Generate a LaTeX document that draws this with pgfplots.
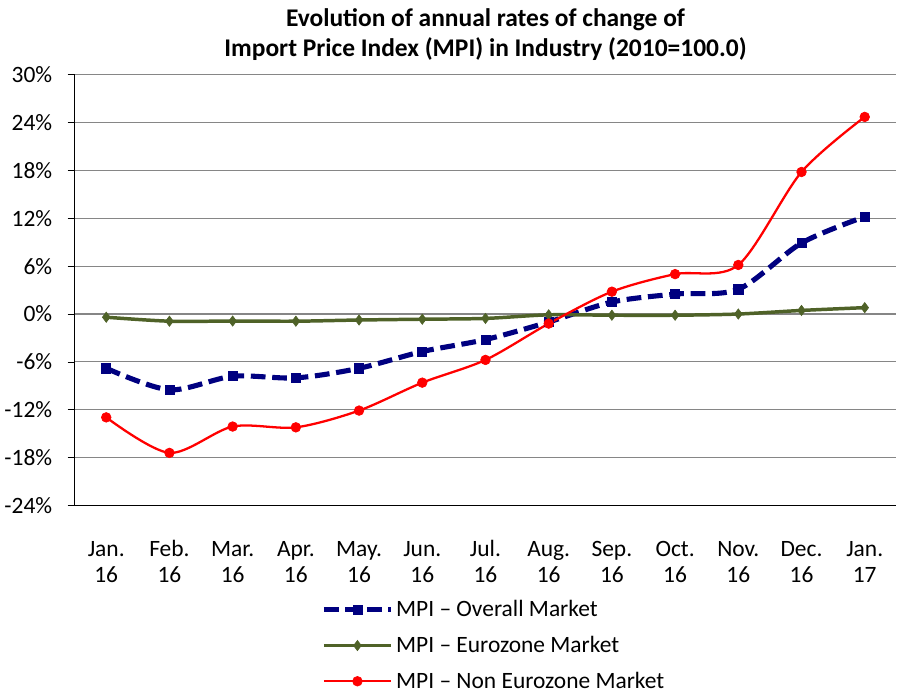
\documentclass[border={0pt 0pt 0pt 3pt}]{standalone}
\usepackage{pgfplots}
\pgfplotsset{compat=1.18}
\usepackage{fontspec}
\setmainfont{Carlito}
\definecolor{mpinavy}{RGB}{0,0,128}
\definecolor{mpiolive}{RGB}{79,98,40}
\definecolor{mpired}{RGB}{255,0,0}
\definecolor{gridgray}{RGB}{134,134,134}
\begin{document}
\begin{tikzpicture}
\begin{axis}[
  scale only axis,
  width=613.5pt, height=321.75pt,
  xmin=-0.5, xmax=12.5,
  ymin=-24, ymax=30,
  ytick={-24,-18,...,30},
  yticklabel={\pgfmathprintnumber{\tick}\%},
  /pgf/number format/assume math mode=true,
  xtick={0,...,12},
  xticklabels={{\strut Jan.\\16},{\strut Feb.\\16},{\strut Mar.\\16},{\strut Apr.\\16},{\strut May.\\16},{\strut Jun.\\16},{\strut Jul.\\16},{\strut Aug.\\16},{\strut Sep.\\16},{\strut Oct.\\16},{\strut Nov.\\16},{\strut Dec.\\16},{\strut Jan.\\17}},
  xticklabel style={align=center, yshift=-15pt, font=\fontsize{17.5}{20}\selectfont},
  yticklabel style={font=\fontsize{17.5}{20}\selectfont, xshift=-8pt},
  x tick style={draw=none},
  y tick style={black, line width=0.6pt},
  tick align=outside,
  major tick length=5.25pt,
  axis x line*=bottom,
  axis y line*=left,
  axis line style={black, line width=1pt, -},
  ymajorgrids,
  major grid style={gridgray, line width=0.8pt},
  title={Evolution of annual rates of change of\\Import Price Index (MPI) in Industry (2010=100.0)},
  title style={align=center, font=\bfseries\fontsize{19}{22.5}\selectfont, yshift=1pt},
  legend style={at={(0.30,-0.214)}, anchor=north west, draw=none, fill=none,
    font=\fontsize{17.5}{20}\selectfont, row sep=9pt, legend cell align=left, inner sep=0pt},
  legend image code/.code={\draw[mark repeat=2,mark phase=2,#1] plot coordinates {(0pt,0pt) (25pt,0pt) (50pt,0pt)};},
]
\addplot[mpinavy, line width=3.8pt, dash pattern=on 11pt off 5pt, smooth, tension=0.5,
  mark=square*, mark size=3.4pt, mark options={solid, line width=0.5pt}]
  coordinates {(0,-6.8) (1,-9.5) (2,-7.8) (3,-8.0) (4,-6.8) (5,-4.7) (6,-3.2) (7,-1.0) (8,1.5) (9,2.5) (10,3.1) (11,8.9) (12,12.2)};
\addlegendentry{MPI – Overall Market}
\addplot[mpiolive, line width=2.6pt, smooth, tension=0.5,
  mark=diamond*, mark size=3.8pt, mark options={line width=0.5pt}]
  coordinates {(0,-0.4) (1,-0.9) (2,-0.88) (3,-0.9) (4,-0.75) (5,-0.65) (6,-0.55) (7,-0.1) (8,-0.15) (9,-0.15) (10,0.0) (11,0.45) (12,0.8)};
\addlegendentry{MPI – Eurozone Market}
\addplot[mpired, line width=1.7pt, smooth, tension=0.5,
  mark=*, mark size=3.6pt, mark options={line width=0.5pt}]
  coordinates {(0,-12.95) (1,-17.4) (2,-14.1) (3,-14.2) (4,-12.1) (5,-8.6) (6,-5.75) (7,-1.2) (8,2.8) (9,5.0) (10,6.15) (11,17.8) (12,24.7)};
\addlegendentry{MPI – Non Eurozone Market}
\end{axis}
\end{tikzpicture}
\end{document}
